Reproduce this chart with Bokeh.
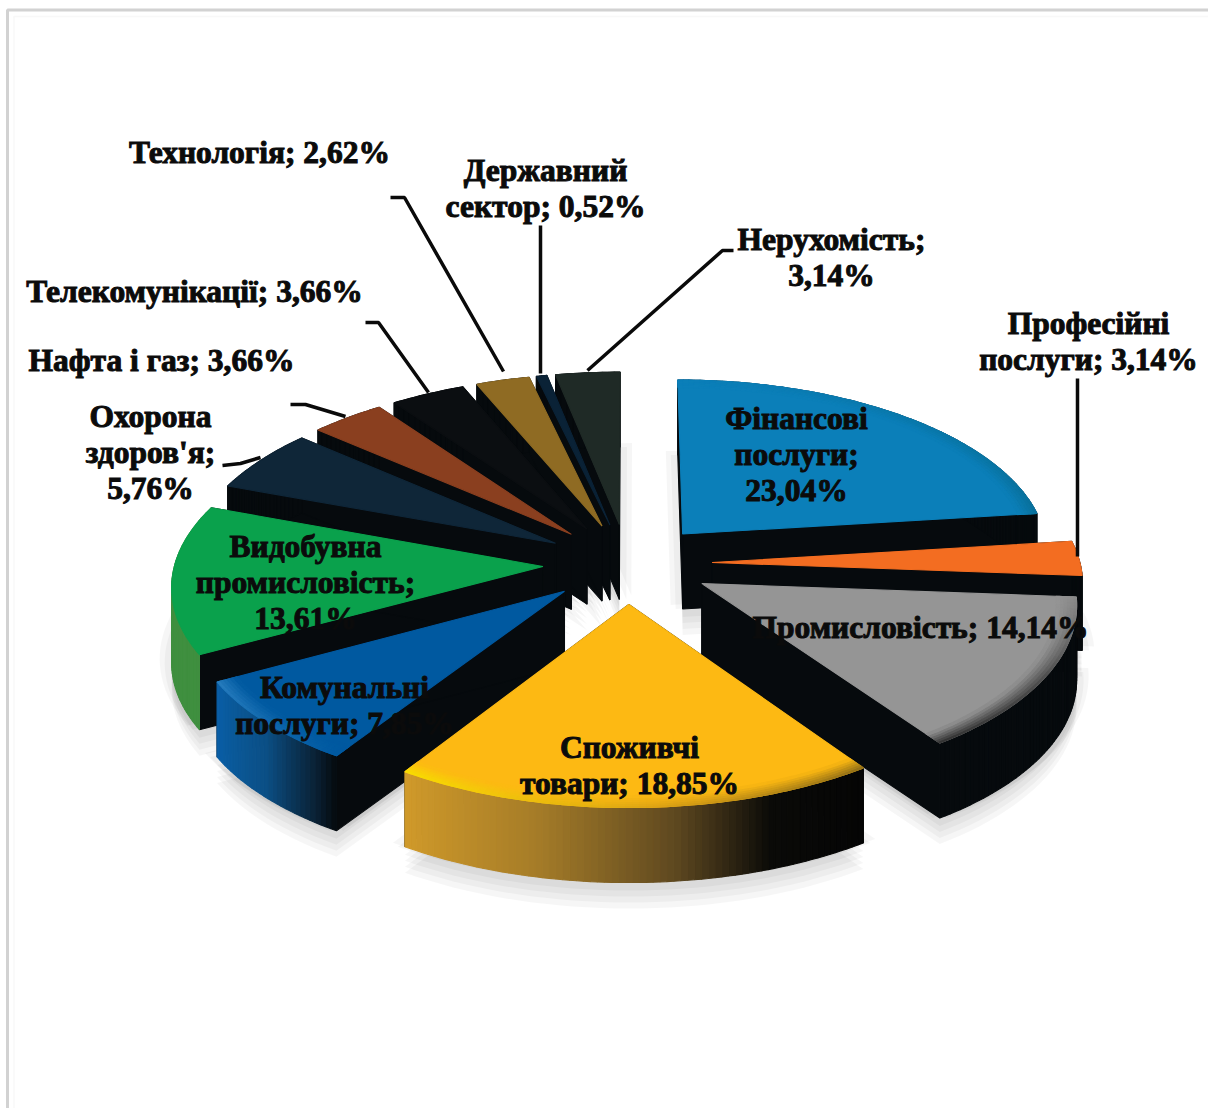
import math
from bokeh.plotting import figure
from bokeh.models import ColumnDataSource, Range1d
from bokeh.core.properties import value
from bokeh.embed import file_html
from bokeh.resources import INLINE

# ---------- data ----------
NAMES = ["Фінансові\nпослуги;", "Професійні\nпослуги;", "Промисловість;", "Споживчі\nтовари;",
         "Комунальні\nпослуги;", "Видобувна\nпромисловість;", "Охорона\nздоров'я;", "Нафта і газ;",
         "Телекомунікації;", "Технологія;", "Державний\nсектор;", "Нерухомість;"]
VALUES = [23.04, 3.14, 14.14, 18.85, 7.85, 13.61, 5.76, 3.66, 3.66, 2.62, 0.52, 3.14]
SEPS = ["\n", " ", " ", " ", " ", "\n", "\n", " ", " ", " ", " ", "\n"]

# ---------- styles and layout ----------
FACES = ["#0b7fb9", "#f36d21", "#959595", "#fdb913", "#0059a0", "#0aa14c",
         "#0f2638", "#8a3f1f", "#0b0e11", "#8f6b23", "#0a2236", "#1f2a26"]
BLACK = "#060a0d"
SIDE_STOPS = {
    3: [(0, "#050505"), (0.22, "#0a0a08"), (0.42, "#5e4820"), (0.7, "#a57c28"), (1, "#d09a2a")],
    4: [(0, BLACK), (0.15, "#0a2338"), (0.5, "#0b4f85"), (1, "#0a5fa6")],
    5: [(0, "#3f8f3f"), (1, "#3f8f3f")],
}
RIM_STOPS = {
    0: [(0, "#0b7fb9"), (1, "#0a7099")],
    2: [(0, "#8a8a8a"), (0.5, "#4a4a4a"), (1, "#2a2a2a")],
    3: [(0, "#8a6a18"), (0.45, "#d9a015"), (0.8, "#f0c80a"), (1, "#f8e000")],
    4: [(0, "#0059a0"), (1, "#2a7fc0")],
}
LABEL_X = [796, 1088, 920, 629, 344, 305, 150, 161, 194, 259, 545, 831]
LABEL_Y = [454, 341, 627, 765, 705, 582, 452, 360, 291, 152, 188, 257]
LEADERS = {
    1: ([1077, 1077], [378, 556]),
    6: ([222, 240, 260], [465, 463, 457]),
    7: ([290, 305, 345], [404, 404, 416]),
    8: ([365, 378, 428], [322, 322, 392]),
    9: ([390, 404, 503], [197, 197, 371]),
    10: ([540, 540], [225, 373]),
    11: ([733, 722, 587], [250, 250, 370]),
}
CX, CY, RX, RZ, PERSP, EXPLODE, DEPTH = 627, 563, 368, 174.5, 0.098, 0.23, 75


def project(x, z, drop=0.0):
    s = 1 / (1 - PERSP * z)
    return CX + RX * x * s, CY + RZ * z * s + drop


def hex2rgb(c):
    return tuple(int(c[i:i + 2], 16) for i in (1, 3, 5))


def mix(a, b, t):
    ra, rb = hex2rgb(a), hex2rgb(b)
    return "#%02x%02x%02x" % tuple(round(p + (q - p) * t) for p, q in zip(ra, rb))


def ramp(stops, t):
    for (t0, c0), (t1, c1) in zip(stops, stops[1:]):
        if t <= t1:
            return mix(c0, c1, (t - t0) / max(t1 - t0, 1e-6))
    return stops[-1][1]


sx, sy = [], []
xs, ys, cols = [], [], []


def add(px, py, color):
    xs.append(px); ys.append(py); cols.append(color)


total = sum(VALUES)
edges, acc = [], 0.0
for v in VALUES:
    edges.append((acc / total * 2 * math.pi, (acc + v) / total * 2 * math.pi))
    acc += v

geom = []
for a0, a1 in edges:
    mid = (a0 + a1) / 2
    geom.append((a0, a1, EXPLODE * math.sin(mid), -EXPLODE * math.cos(mid)))


def rim(g, th, r=1.0, drop=0.0):
    return project(g[2] + r * math.sin(th), g[3] - r * math.cos(th), drop)


# soft shadows first, under everything
SHADOW = [(0, 8), (0, 14), (0, 20), (0, 26), (7, 0), (12, -4), (-7, 0), (-12, -4)]
for g in geom:
    a0, a1 = g[0], g[1]
    n = max(int((a1 - a0) * 30), 3)
    ring = [rim(g, a0 + (a1 - a0) * i / n, 1.0, DEPTH) for i in range(n + 1)]
    ax, ay = project(g[2], g[3], DEPTH)
    for dx, dy in SHADOW:
        sx.append([ax + dx] + [q[0] + dx for q in ring])
        sy.append([ay + dy] + [q[1] + dy for q in ring])

# slices, back to front
for i in sorted(range(len(VALUES)), key=lambda k: geom[k][3]):
    g = geom[i]
    a0, a1 = g[0], g[1]
    n = max(int((a1 - a0) * 60), 6)
    ax, ay = project(g[2], g[3])
    for th in (a0, a1):
        rx, ry = rim(g, th)
        add([ax, rx, rx, ax], [ay, ry, ry + DEPTH, ay + DEPTH], BLACK)
    for k in range(n):
        t0, t1 = a0 + (a1 - a0) * k / n, a0 + (a1 - a0) * (k + 1) / n
        p0, p1 = rim(g, t0), rim(g, t1)
        c = ramp(SIDE_STOPS[i], (k + 0.5) / n) if i in SIDE_STOPS else BLACK
        add([p0[0], p1[0], p1[0], p0[0]], [p0[1], p1[1], p1[1] + DEPTH, p0[1] + DEPTH], c)
    ring = [rim(g, a0 + (a1 - a0) * k / n) for k in range(n + 1)]
    add([ax] + [q[0] for q in ring], [ay] + [q[1] for q in ring], FACES[i])
    if i in RIM_STOPS:
        layers = 6
        for l in range(layers):
            r0, r1 = 1 - 0.009 * l, 1 - 0.009 * (l + 1)
            fade = (l + 0.5) / layers
            for k in range(n):
                t0, t1 = a0 + (a1 - a0) * k / n, a0 + (a1 - a0) * (k + 1) / n
                p0, p1 = rim(g, t0, r0), rim(g, t1, r0)
                q0, q1 = rim(g, t0, r1), rim(g, t1, r1)
                c = mix(ramp(RIM_STOPS[i], (k + 0.5) / n), FACES[i], fade)
                add([p0[0], p1[0], q1[0], q0[0]], [p0[1], p1[1], q1[1], q0[1]], c)

p = figure(width=1208, height=1108, x_range=Range1d(0, 1208), y_range=Range1d(1108, 0),
           x_axis_location=None, y_axis_location=None, toolbar_location=None,
           output_backend="svg", min_border=0, outline_line_color=None,
           background_fill_color="#ffffff", border_fill_color="#ffffff")
p.grid.visible = False

# page frame
p.line([13.5, 13.5, 1208], [1108, 16, 16], line_color="#f8f8f8", line_width=1.5)
p.line([7, 7, 1208], [1108, 9.5, 9.5], line_color="#d2d2d2", line_width=3)

p.patches(sx, sy, fill_color="#000000", fill_alpha=0.035, line_color=None)
src = ColumnDataSource(dict(xs=xs, ys=ys, c=cols))
p.patches("xs", "ys", source=src, fill_color="c", line_color="c", line_width=1.1)

p.multi_line([v[0] for v in LEADERS.values()], [v[1] for v in LEADERS.values()],
             line_color="#0a0a0a", line_width=3.5)

labels = [f"{n}{s}{v:.2f}%".replace(".", ",") for n, s, v in zip(NAMES, SEPS, VALUES)]
p.text(LABEL_X, LABEL_Y, text=labels, text_font=value("Liberation Serif"), text_font_style="bold",
       text_font_size="31.5px", text_color="#0b0b0b", text_align="center",
       text_baseline="middle", text_line_height=1.035,
       outline_color="#0b0b0b")

open("out.html", "w").write(file_html(p, INLINE))
